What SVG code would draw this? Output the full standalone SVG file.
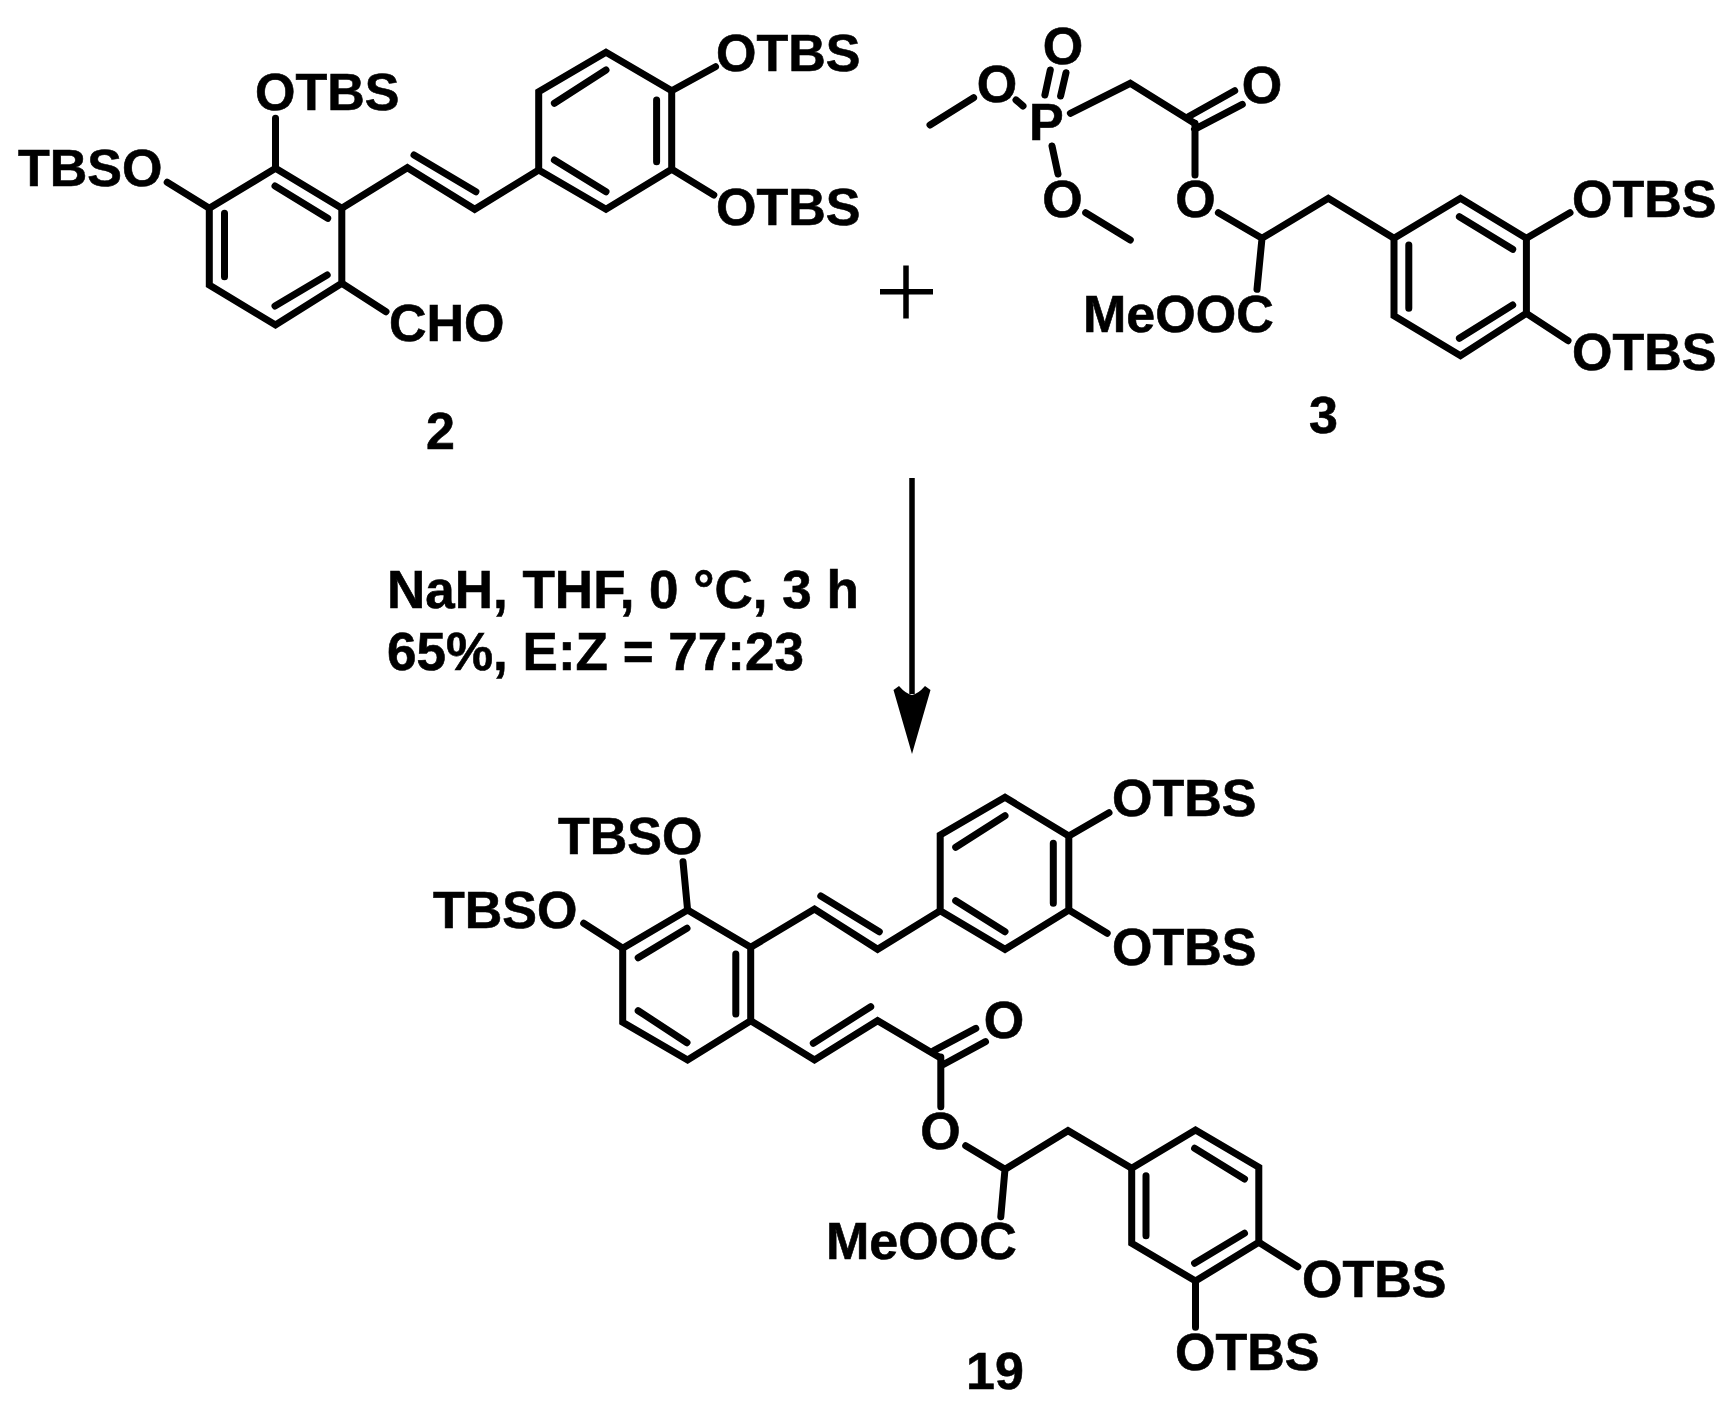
<svg xmlns="http://www.w3.org/2000/svg" width="1733" height="1415" viewBox="0 0 1733 1415">
<style>
text{font-family:"Liberation Sans",Arial,sans-serif;font-weight:700;font-size:52px;fill:#000;stroke:#000;stroke-width:.6}
.m{text-anchor:middle}
.c{font-size:53px}
.b{fill:none;stroke:#000;stroke-width:7;stroke-linecap:round;stroke-linejoin:miter}
.t{fill:none;stroke:#000;stroke-width:5.5}
</style>
<rect width="1733" height="1415" fill="#fff"/>
<g id="connectors">
<g id="bonds-2" class="b">
<path d="M275.5 168.3L341.8 208.3V283.3L275.5 325L209.3 285V208.3Z"/>
<path d="M275 186L327.7 218.3M224.5 213.3V276.7M327.2 275L275 306"/>
<path d="M341.8 208.3L407.4 167.7L474.7 209.3L538.7 170"/>
<path d="M414 155L475.9 191.7"/>
<path d="M538.7 170V91.7L606 52.3L671.7 90.7V169.3L606 209.3Z"/>
<path d="M606 70L554.4 103.3M656.6 100V161.7M554.4 160L606 191.7"/>
<path d="M275.5 118.3V168.3M167.2 182.3L209.3 208.3M341.8 283.3L386 311.7M671.7 90.7L715.5 66.7M671.7 169.3L713.8 195"/>
</g>
<g id="bonds-3" class="b">
<path d="M930 125L973.6 97.7M1016 100L1023 106M1050.3 70L1044.9 95M1066 72.7L1060.6 96"/>
<path d="M1070.4 113.3L1130.3 83.3L1194.5 123.3"/>
<path d="M1187.4 117.3L1234.7 90.7M1194.5 129.3L1242.3 104.3M1195 123.3V175"/>
<path d="M1052 146L1058 174M1085.7 212.7L1130.3 240M1218.4 212.7L1262 238.3L1328.3 198.3L1394 238.3M1262 238.3L1257 289.3"/>
<path d="M1394 238.3L1460.5 198.3L1526.4 238.3V313.3L1460.5 355.7L1394 315.7Z"/>
<path d="M1459.4 216.7L1512.7 249.3M1512.7 305L1459.4 338.3M1408.8 245V308.3"/>
<path d="M1526.4 238.3L1570 212.7M1526.4 313.3L1568 340.7"/>
</g>
<g id="bonds-19" class="b">
<path d="M687.6 910L750.7 947.3V1020.7L687.6 1060L622.7 1022.3V948.3Z"/>
<path d="M687 928.3L638.2 957.7M735.8 954V1014M687 1042.7L638.2 1010.7"/>
<path d="M750.7 947.3L814.5 909L877.6 949.3L940.2 910.7M820.8 896L879.3 931.7"/>
<path d="M940.2 910.7V835L1005 797.3L1068.8 836V910L1005 949.3Z"/>
<path d="M1005 815.7L955.7 847.3M1053.3 843.3V903.3M955.7 900.7L1005 931.7"/>
<path d="M1068.8 836L1109 812.7M1068.8 910L1107.2 933.3M683 861.7L687.6 910M583.7 923.3L622.7 948.3"/>
<path d="M750.7 1020.7L814.5 1060L877.6 1020.7L940.2 1057.7M813.3 1043.3L870.7 1006.7"/>
<path d="M933.9 1050.7L975.8 1028.3M942.5 1065L985.5 1041.7M940.8 1057V1106.7"/>
<path d="M965.7 1145.7L1005 1169.3L1068 1130.7L1131.7 1168.3M1005 1169.3L1000.8 1216.7"/>
<path d="M1131.7 1168.3L1195.5 1130L1258.8 1167.3V1242.3L1195.5 1281L1131.7 1243.3Z"/>
<path d="M1194.6 1148.3L1244.5 1179M1146 1175.7V1235.7M1244.5 1233.3L1194.6 1263.3"/>
<path d="M1258.8 1242.3L1297.8 1266.7M1195.5 1281V1327.3"/>
</g>
<g id="reaction-arrow">
<path class="t" d="M912 478V694"/>
<path d="M912 754L893.5 690L899 686Q906 694 912 695Q918 694 925 686L930.5 690Z" fill="#000"/>
</g>
<path id="plus" class="t" d="M880 291.7H933M906 265.5V318.5"/>
</g>
<g id="compound-2">
<text x="255" y="110">OTBS</text>
<text x="18" y="186">TBSO</text>
<text x="716" y="71">OTBS</text>
<text x="716" y="225">OTBS</text>
<text x="389" y="341">CHO</text>
<text class="m" x="440.5" y="449">2</text>
</g>
<g id="compound-3">
<text class="m" x="1063" y="64">O</text>
<text class="m" x="997" y="102">O</text>
<text x="1029" y="140">P</text>
<text class="m" x="1062.6" y="217">O</text>
<text class="m" x="1262" y="103">O</text>
<text class="m" x="1195.5" y="217">O</text>
<text x="1083" y="332">MeOOC</text>
<text x="1572" y="217">OTBS</text>
<text x="1572" y="370">OTBS</text>
<text class="m" x="1323.5" y="433">3</text>
</g>
<g id="conditions">
<text class="c" x="387" y="608">NaH, THF, 0 °C, 3 h</text>
<text class="c" x="387" y="670">65%, E:Z = 77:23</text>
</g>
<g id="compound-19">
<text x="558" y="854">TBSO</text>
<text x="433" y="928">TBSO</text>
<text x="1112" y="816">OTBS</text>
<text x="1112" y="965">OTBS</text>
<text class="m" x="1004" y="1038">O</text>
<text class="m" x="940.5" y="1149">O</text>
<text x="826" y="1259">MeOOC</text>
<text x="1302" y="1297">OTBS</text>
<text x="1175" y="1370">OTBS</text>
<text class="m" x="995" y="1389">19</text>
</g>
</svg>
